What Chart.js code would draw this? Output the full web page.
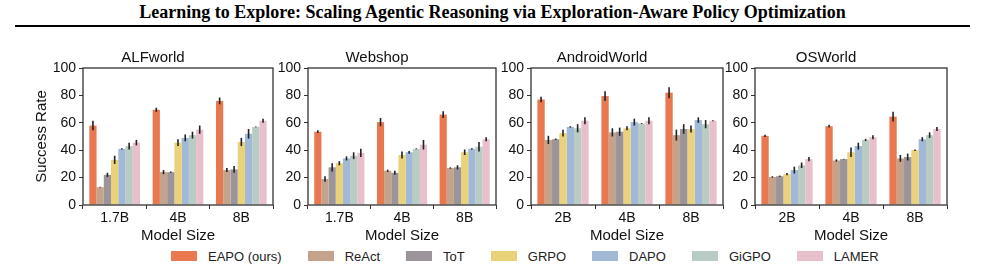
<!DOCTYPE html>
<html>
<head>
<meta charset="utf-8">
<script src="https://cdn.jsdelivr.net/npm/chart.js@4.4.1/dist/chart.umd.min.js"></script>
<style>
  body { margin: 0; background: #fff; width: 985px; height: 270px; position: relative; overflow: hidden; }
  #title { position: absolute; left: 0; top: 2px; width: 985px; text-align: center;
    font: bold 18px "Liberation Serif", serif; color: #000; }
  #rule { position: absolute; left: 15px; top: 25px; width: 955px; height: 2px; background: #000; }
  .panel { position: absolute; top: 44px; height: 201px; }
  #legend { position: absolute; top: 248px; left: 171px; height: 16px; display: flex; align-items: center;
    font: 13px "Liberation Sans", Arial, sans-serif; color: #222; white-space: nowrap; }
  #legend span.item { display: flex; align-items: center; margin-right: 26px; }
  #legend span.sw { width: 26px; height: 10px; margin-right: 11px; display: inline-block; }
</style>
</head>
<body>
<div id="title">Learning to Explore: Scaling Agentic Reasoning via Exploration-Aware Policy Optimization</div>
<div id="rule"></div>
<div id="p0" class="panel"><canvas id="c0"></canvas></div>
<div id="p1" class="panel"><canvas id="c1"></canvas></div>
<div id="p2" class="panel"><canvas id="c2"></canvas></div>
<div id="p3" class="panel"><canvas id="c3"></canvas></div>
<div id="legend"></div>
<script>
// methods and colours
const methods = ["EAPO (ours)", "ReAct", "ToT", "GRPO", "DAPO", "GiGPO", "LAMER"];
const colors = ["#E8784F", "#C4A38C", "#9B949B", "#E9D27A", "#A1B8D6", "#B9CCC4", "#E8C0CC"];

const benchmarks = ["ALFworld", "Webshop", "AndroidWorld", "OSWorld"];
const sizes = [["1.7B", "4B", "8B"], ["1.7B", "4B", "8B"], ["2B", "4B", "8B"], ["2B", "4B", "8B"]];

// success rate per method, one value per model size
const alfMean = [[58, 69.5, 76], [13, 24, 25.5], [22, 24, 26], [33, 45.5, 46], [41, 49, 52], [43, 51, 57], [45.5, 55, 61.5]];
const alfErr  = [[3.5, 1.5, 2.5], [0.3, 1.5, 1.5], [1.5, 0.5, 2.5], [3, 2.5, 3], [0.5, 2.5, 3.5], [2.5, 2.5, 0.3], [2, 3, 1.5]];
const webMean = [[53.5, 60.5, 66], [19, 25, 27], [27.5, 23.5, 27.5], [30.5, 36.5, 38.5], [34, 38.5, 41], [36, 41, 42.5], [38, 44, 48]];
const webErr  = [[1, 3, 2.5], [2, 0.8, 0.5], [3, 1.5, 1.5], [1.5, 2.5, 2], [1.5, 1, 0.5], [2.5, 0.3, 3.5], [3, 3.5, 1.5]];
const andMean = [[77, 79.5, 82], [47.5, 53, 51], [48, 53.5, 55.5], [52.5, 56, 55.5], [57, 60.5, 62], [56, 59.5, 59], [61.5, 61.5, 61.5]];
const andErr  = [[2, 3.5, 4], [3, 3, 4], [0.5, 3, 3.5], [2.5, 1.5, 2.5], [0.5, 2.5, 2], [3, 0.3, 3], [2.5, 2.5, 0.3]];
const osMean  = [[50.5, 57.5, 64.5], [20.5, 32.5, 34], [21, 33.5, 35], [22.5, 38.5, 40], [25.5, 43, 48], [29, 47.5, 51], [33.5, 49.5, 55.5]];
const osErr   = [[0.8, 1, 3.5], [0.5, 0.8, 2.5], [0.5, 0.2, 2.5], [0.8, 3.5, 0.5], [2.5, 2.5, 1.5], [2, 0.8, 2], [1.5, 1.5, 1.5]];

const means = [alfMean, webMean, andMean, osMean];
const errs = [alfErr, webErr, andErr, osErr];
const yTicks = [0, 20, 40, 60, 80, 100];

// where each plot area sits on the page (left, right of the frame)
const frames = [[83, 272], [308, 495], [531, 722], [755, 946]];
const yAxisW = 50;

const font = "'Liberation Sans', Arial, sans-serif";
Chart.defaults.font.family = font;
Chart.defaults.color = "#111";

const errorBars = {
  id: "errorBars",
  afterDatasetsDraw(chart) {
    const ctx = chart.ctx, y = chart.scales.y;
    const err = chart.options.plugins.errorBars.err;
    ctx.save();
    ctx.strokeStyle = "#222";
    ctx.lineWidth = 1.6;
    chart.data.datasets.forEach((ds, i) => {
      chart.getDatasetMeta(i).data.forEach((bar, j) => {
        const v = ds.data[j], e = err[i][j];
        ctx.beginPath();
        ctx.moveTo(bar.x, y.getPixelForValue(v - e));
        ctx.lineTo(bar.x, y.getPixelForValue(v + e));
        ctx.stroke();
      });
    });
    ctx.restore();
  }
};

const frame = {
  id: "frame",
  afterDraw(chart) {
    const a = chart.chartArea, ctx = chart.ctx;
    ctx.save();
    ctx.strokeStyle = "#333";
    ctx.lineWidth = 1.3;
    ctx.strokeRect(a.left, a.top, a.right - a.left, a.bottom - a.top);
    ctx.restore();
  }
};

benchmarks.forEach((name, k) => {
  const box = document.getElementById("p" + k);
  const left = frames[k][0] - yAxisW;
  const w = frames[k][1] - left + 4;
  box.style.left = left + "px";
  box.style.width = w + "px";
  new Chart(document.getElementById("c" + k), {
    type: "bar",
    data: {
      labels: sizes[k],
      datasets: methods.map((m, i) => ({
        label: m,
        data: means[k][i],
        backgroundColor: colors[i],
        borderWidth: 0,
        categoryPercentage: 0.8,
        barPercentage: 1.0
      }))
    },
    options: {
      responsive: true,
      maintainAspectRatio: false,
      animation: false,
      layout: { padding: { top: 0, right: 3, bottom: 0, left: 0 } },
      plugins: {
        legend: { display: false },
        tooltip: { enabled: false },
        title: { display: true, text: name, font: { size: 15, weight: "normal" }, color: "#111", padding: { top: 5, bottom: 1 } },
        errorBars: { err: errs[k] }
      },
      scales: {
        x: {
          grid: { drawOnChartArea: false, drawTicks: true, tickLength: 4, tickColor: "#333" },
          border: { display: false },
          ticks: { font: { size: 14 }, color: "#111", padding: 1 },
          title: { display: true, text: "Model Size", font: { size: 15 }, color: "#111", padding: { top: 0, bottom: 0 } },
          afterFit(s) { s.height = 40; }
        },
        y: {
          min: 0, max: 100,
          afterBuildTicks(s) { s.ticks = yTicks.map(v => ({ value: v })); },
          grid: { drawOnChartArea: false, drawTicks: true, tickLength: 4, tickColor: "#333" },
          border: { display: false },
          ticks: { font: { size: 14 }, color: "#111", padding: 3 },
          title: { display: k === 0, text: "Success Rate", font: { size: 15 }, color: "#111", padding: 0 },
          afterFit(s) { s.width = yAxisW; }
        }
      }
    },
    plugins: [errorBars, frame]
  });
});

const lg = document.getElementById("legend");
methods.forEach((m, i) => {
  const it = document.createElement("span");
  it.className = "item";
  it.innerHTML = '<span class="sw" style="background:' + colors[i] + '"></span>' + m;
  lg.appendChild(it);
});
</script>
</body>
</html>
